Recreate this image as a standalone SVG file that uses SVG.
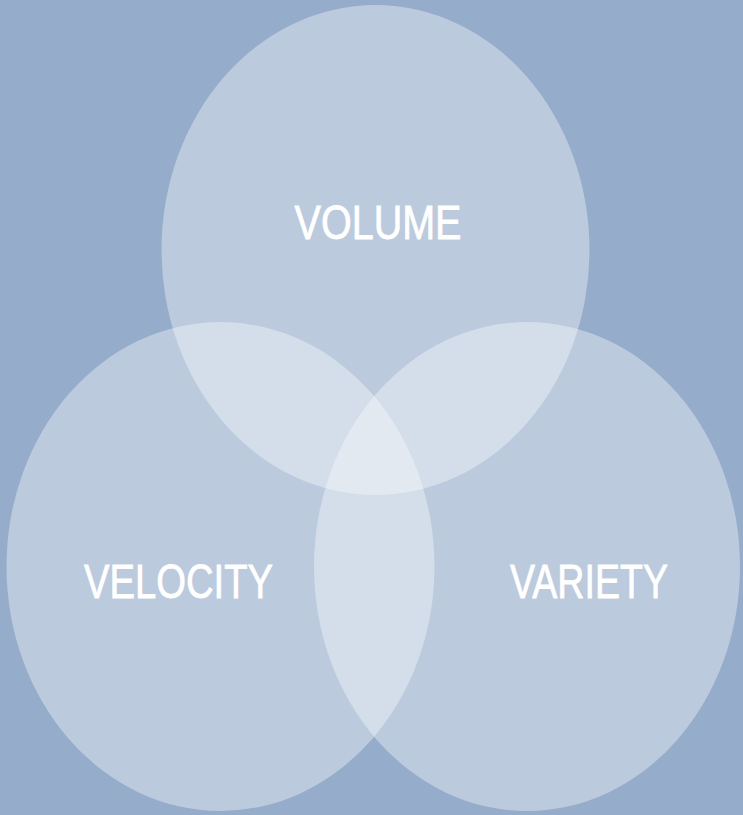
<svg xmlns="http://www.w3.org/2000/svg" width="743" height="815" viewBox="0 0 743 815">
<style>
.c{fill:#ffffff;fill-opacity:0.365;}
.t{font-family:"Liberation Sans",Arial,sans-serif;font-size:49px;fill:#ffffff;stroke:#ffffff;stroke-width:0.8;text-anchor:middle;}
</style>
<rect x="0" y="0" width="743" height="815" fill="#96accb"/>
<g id="volume">
<ellipse class="c" cx="375.5" cy="250" rx="214" ry="245"/>
<text class="t" x="378" y="239" textLength="167" lengthAdjust="spacingAndGlyphs">VOLUME</text>
</g>
<g id="velocity">
<ellipse class="c" cx="220.5" cy="566.5" rx="214" ry="244.5"/>
<text class="t" x="178.5" y="598" textLength="189" lengthAdjust="spacingAndGlyphs">VELOCITY</text>
</g>
<g id="variety">
<ellipse class="c" cx="527" cy="566.5" rx="213" ry="244.5"/>
<text class="t" x="589" y="598" textLength="158" lengthAdjust="spacingAndGlyphs">VARIETY</text>
</g>
<g id="connectors"/>
</svg>
